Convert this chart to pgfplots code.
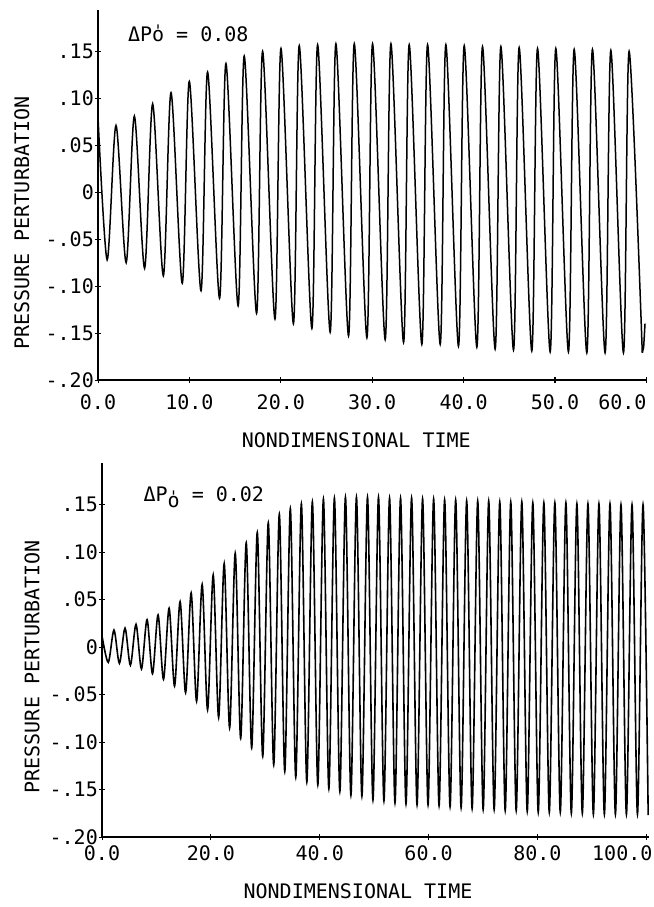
\documentclass[border=0pt]{standalone}
\usepackage{pgfplots}
\pgfplotsset{compat=1.18}
\usepackage{fontspec}
\setmainfont{DejaVu Sans Mono}
\begin{document}
\begin{tikzpicture}
\useasboundingbox (0pt,0pt) rectangle (653pt,-907pt);
\pgfplotsset{
  myax/.style={
    scale only axis,
    axis lines=left,
    axis line style={-, line width=1.2pt},
    ymin=-0.2, ymax=0.194,
    ytick={-0.20,-0.15,-0.10,-0.05,0,0.05,0.10,0.15},
    yticklabels={-.20,-.15,-.10,-.05,0,.05,.10,.15},
    tick style={black, line width=1pt},
    major tick length=6pt,
    tick align=center,
    label style={font=\fontsize{20}{24}\selectfont},
    ticklabel style={font=\fontsize{20}{24}\selectfont},
    yticklabel style={inner sep=1pt},
    xlabel={NONDIMENSIONAL TIME},
    ylabel={PRESSURE PERTURBATION},
    clip=false,
  }
}
% ---------------- top panel ----------------
\begin{axis}[myax,
  at={(98pt,-380pt)}, anchor=south west,
  width=548.4pt, height=370pt,
  xmin=0, xmax=60,
  xtick={0,10,20,30,40,50}, xticklabels={0.0,10.0,20.0,30.0,40.0,50.0},
  extra x ticks={60}, extra x tick labels={60.0},
  extra x tick style={xticklabel style={xshift=-24pt}},
  xticklabel style={yshift=-8pt},
  xlabel style={at={(axis description cs:0.471,-0.162)}, anchor=center},
  ylabel style={at={(axis description cs:-0.139,0.424)}, anchor=center},
]
\addplot[black, line width=1.5pt, smooth, no markers] coordinates {
(0.00,0.080) (1.00,-0.072) (1.97,0.071) (3.08,-0.075) (3.98,0.081)
(5.10,-0.081) (5.98,0.094) (7.15,-0.089) (7.99,0.106) (9.22,-0.097)
(9.99,0.118) (11.27,-0.105) (11.99,0.128) (13.30,-0.113) (14.00,0.137)
(15.33,-0.121) (16.00,0.145) (17.35,-0.129) (18.01,0.150) (19.36,-0.135)
(20.02,0.153) (21.38,-0.140) (22.02,0.156) (23.40,-0.145) (24.03,0.157)
(25.40,-0.149) (26.03,0.158) (27.41,-0.153) (28.04,0.158) (29.42,-0.155)
(30.04,0.158) (31.42,-0.157) (32.05,0.158) (33.43,-0.160) (34.05,0.157)
(35.43,-0.162) (36.06,0.157) (37.44,-0.162) (38.06,0.157) (39.44,-0.164)
(40.07,0.156) (41.45,-0.165) (42.07,0.155) (43.45,-0.167) (44.08,0.155)
(45.46,-0.168) (46.08,0.154) (47.46,-0.169) (48.09,0.153) (49.47,-0.170)
(50.09,0.153) (51.47,-0.170) (52.10,0.152) (53.48,-0.171) (54.10,0.152)
(55.48,-0.171) (56.11,0.151) (57.49,-0.171) (58.11,0.150) (59.55,-0.171)
};
\addplot[black, line width=1.5pt, no markers] coordinates {
(59.55,-0.171) (59.70,-0.165) (59.85,-0.140)
};
\node[anchor=west, font=\fontsize{20}{24}\selectfont] at (axis cs:2.9,0.169) {ΔPo̍ = 0.08};
\end{axis}
% ---------------- bottom panel ----------------
\begin{axis}[myax,
  at={(102pt,-837pt)}, anchor=south west,
  width=547pt, height=374pt,
  xmin=0, xmax=100.5,
  xtick={0,20,40,60,80}, xticklabels={0.0,20.0,40.0,60.0,80.0},
  extra x ticks={100}, extra x tick labels={100.0},
  extra x tick style={xticklabel style={xshift=-24pt}},
  xticklabel style={yshift=-2pt},
  xlabel style={at={(axis description cs:0.468,-0.146)}, anchor=center},
  ylabel style={at={(axis description cs:-0.128,0.455)}, anchor=center},
]
\addplot[black, line width=1.6pt, smooth, no markers] coordinates {
(0.00,0.012) (1.15,-0.016) (2.20,0.018) (3.20,-0.017) (4.23,0.020)
(5.22,-0.019) (6.25,0.024) (7.25,-0.023) (8.28,0.029) (9.28,-0.028)
(10.30,0.034) (11.30,-0.034) (12.33,0.041) (13.33,-0.041) (14.35,0.048)
(15.36,-0.048) (16.38,0.057) (17.38,-0.057) (18.40,0.066) (19.40,-0.066)
(20.43,0.076) (21.43,-0.074) (22.45,0.088) (23.45,-0.085) (24.48,0.099)
(25.48,-0.096) (26.50,0.110) (27.50,-0.106) (28.53,0.121) (29.53,-0.115)
(30.55,0.131) (31.55,-0.124) (32.58,0.140) (33.58,-0.131) (34.60,0.146)
(35.60,-0.137) (36.63,0.151) (37.63,-0.142) (38.65,0.153) (39.65,-0.145)
(40.68,0.156) (41.68,-0.149) (42.70,0.157) (43.70,-0.152) (44.73,0.158)
(45.73,-0.156) (46.75,0.158) (47.75,-0.157) (48.78,0.158) (49.78,-0.161)
(50.80,0.158) (51.80,-0.162) (52.83,0.157) (53.83,-0.164) (54.85,0.157)
(55.85,-0.165) (56.88,0.157) (57.88,-0.166) (58.90,0.156) (59.90,-0.166)
(60.93,0.156) (61.93,-0.167) (62.95,0.155) (63.95,-0.168) (64.98,0.155)
(65.98,-0.169) (67.00,0.154) (68.00,-0.170) (69.03,0.154) (70.03,-0.171)
(71.05,0.154) (72.05,-0.171) (73.08,0.153) (74.08,-0.172) (75.10,0.153)
(76.10,-0.172) (77.13,0.153) (78.13,-0.173) (79.15,0.152) (80.15,-0.174)
(81.18,0.152) (82.18,-0.174) (83.20,0.152) (84.20,-0.174) (85.23,0.152)
(86.23,-0.175) (87.25,0.151) (88.25,-0.175) (89.28,0.151) (90.28,-0.176)
(91.30,0.151) (92.30,-0.176) (93.33,0.151) (94.33,-0.176) (95.35,0.150)
(96.35,-0.176) (97.38,0.150) (98.38,-0.176) (99.40,0.150) (100.35,-0.177)
};
\node[anchor=west, font=\fontsize{20}{24}\selectfont] at (axis cs:7.0,0.158) {ΔP\raisebox{-0.5ex}{o̍} = 0.02};
\end{axis}
\end{tikzpicture}
\end{document}
